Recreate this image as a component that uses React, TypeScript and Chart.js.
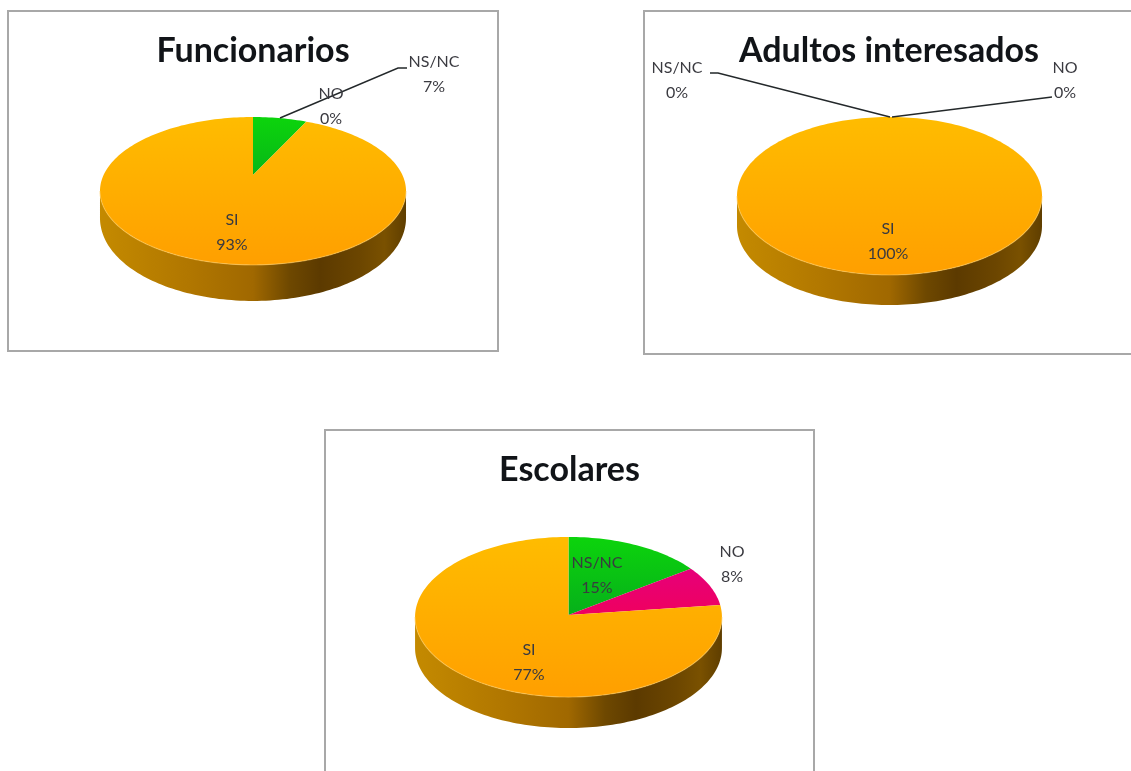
import React, { useEffect, useRef } from "react";
import { Chart, registerables } from "chart.js";

Chart.register(...registerables);

const categories = ["NS/NC", "NO", "SI"];
const funcionariosValues = [7, 0, 93];
const adultosValues = [0, 0, 100];
const escolaresValues = [15, 8, 77];

const sliceTones = [
  ["#0cd40c", "#008a2a"],
  ["#e0008c", "#ff0030"],
  ["#ffbc00", "#ff9f00"],
];
const sideStops: [number, string][] = [
  [0, "#c48a00"],
  [0.3, "#b07600"],
  [0.5, "#a06800"],
  [0.62, "#6e4800"],
  [0.72, "#5c3a00"],
  [0.85, "#6c4600"],
  [0.93, "#7a5100"],
  [1, "#5f3e00"],
];

type Panel = {
  title: string;
  values: number[];
  left: number;
  top: number;
  width: number;
  height: number;
  cx: number;
  cy: number;
  radius: number;
  tilt: number;
  persp: number;
  depthSide: number;
  depthFront: number;
  titleY: number;
  labelAt: [number, number][];
  leaders: [number, number][][];
};

const panels: Panel[] = [
  {
    title: "Funcionarios",
    values: funcionariosValues,
    left: 7, top: 10, width: 492, height: 342,
    cx: 246, cy: 165, radius: 149.4, tilt: 70.5 / 149.4, persp: 0.216,
    depthSide: 27, depthFront: 36, titleY: 41,
    labelAt: [[427, 52], [324, 84], [225, 210]],
    leaders: [[[273, 108], [391, 58], [400, 58]]],
  },
  {
    title: "Adultos interesados",
    values: adultosValues,
    left: 643, top: 10, width: 492, height: 345,
    cx: 246.5, cy: 186, radius: 152.5, tilt: 79 / 152.5, persp: 0,
    depthSide: 30, depthFront: 30, titleY: 41,
    labelAt: [[34, 58], [422, 58], [245, 219]],
    leaders: [
      [[67, 63], [75, 63], [247, 107]],
      [[409, 87], [249, 107]],
    ],
  },
  {
    title: "Escolares",
    values: escolaresValues,
    left: 324, top: 429, width: 491, height: 350,
    cx: 244.5, cy: 186, radius: 153.4, tilt: 80 / 153.4, persp: 0.025,
    depthSide: 31, depthFront: 31, titleY: 41,
    labelAt: [[273, 134], [408, 123], [205, 221]],
    leaders: [],
  },
];

function project(p: Panel, x: number, y: number, r: number, angle: number) {
  const u = Math.cos(angle);
  const d = Math.sin(angle);
  const w = 1 / (1 - p.persp * d);
  return { x: x + r * u * w, y: y + r * p.tilt * d * w, d };
}

function perspectivePlugin(p: Panel) {
  return {
    id: "perspectivePie",
    beforeDraw(chart: any) {
      const { ctx, width, height } = chart;
      ctx.save();
      ctx.fillStyle = "#ffffff";
      ctx.fillRect(0, 0, width, height);
      ctx.strokeStyle = "#a8a8a8";
      ctx.lineWidth = 2;
      ctx.strokeRect(1, 1, width - 2, height - 2);
      ctx.restore();
    },
    beforeDatasetDraw(chart: any) {
      const { ctx } = chart;
      const arcs = chart.getDatasetMeta(0).data;
      const { x, y, outerRadius: r } = arcs[0];
      const extreme = Math.asin(p.persp);
      const frontFrom = extreme;
      const frontTo = Math.PI - extreme;
      const steps = 120;
      const rim: { x: number; y: number; d: number }[] = [];
      for (let i = 0; i <= steps; i++) {
        rim.push(project(p, x, y, r, frontFrom + ((frontTo - frontFrom) * i) / steps));
      }
      const offset = (d: number) =>
        p.depthSide + (p.depthFront - p.depthSide) * Math.max(0, (d - p.persp) / (1 - p.persp));

      ctx.save();
      const xs = rim.map((q) => q.x);
      const xMin = Math.min(...xs);
      const xMax = Math.max(...xs);
      const side = ctx.createLinearGradient(xMin, 0, xMax, 0);
      sideStops.forEach(([s, c]) => side.addColorStop(s, c));
      ctx.fillStyle = side;
      ctx.beginPath();
      rim.forEach((q, i) => (i ? ctx.lineTo(q.x, q.y) : ctx.moveTo(q.x, q.y)));
      for (let i = rim.length - 1; i >= 0; i--) {
        ctx.lineTo(rim[i].x, rim[i].y + offset(rim[i].d));
      }
      ctx.closePath();
      ctx.fill();

      const yTop = project(p, x, y, r, -Math.PI / 2).y;
      const yBottom = project(p, x, y, r, Math.PI / 2).y;
      arcs.forEach((arc: any, index: number) => {
        const span = arc.endAngle - arc.startAngle;
        if (span <= 0) return;
        const grad = ctx.createLinearGradient(0, yTop, 0, yBottom);
        grad.addColorStop(0, sliceTones[index][0]);
        grad.addColorStop(1, sliceTones[index][1]);
        ctx.fillStyle = grad;
        ctx.beginPath();
        if (span < Math.PI * 2 - 1e-6) ctx.moveTo(x, y);
        const n = Math.max(4, Math.ceil((span / (Math.PI * 2)) * 240));
        for (let i = 0; i <= n; i++) {
          const q = project(p, x, y, r, arc.startAngle + (span * i) / n);
          ctx.lineTo(q.x, q.y);
        }
        ctx.closePath();
        ctx.fill();
      });

      ctx.strokeStyle = "rgba(255,206,96,0.5)";
      ctx.lineWidth = 1.2;
      ctx.beginPath();
      rim.forEach((q, i) => (i ? ctx.lineTo(q.x, q.y) : ctx.moveTo(q.x, q.y)));
      ctx.stroke();
      ctx.restore();
      return false;
    },
    afterDraw(chart: any) {
      const { ctx, width } = chart;
      ctx.save();
      ctx.strokeStyle = "#23282a";
      ctx.lineWidth = 1.4;
      p.leaders.forEach((line) => {
        ctx.beginPath();
        line.forEach(([lx, ly], i) => (i ? ctx.lineTo(lx, ly) : ctx.moveTo(lx, ly)));
        ctx.stroke();
      });
      ctx.textAlign = "center";
      ctx.textBaseline = "middle";
      ctx.fillStyle = "#111418";
      ctx.font = "bold 34px Lato, 'Open Sans', sans-serif";
      ctx.fillText(p.title, width / 2, p.titleY);
      ctx.font = "16px Lato, 'Open Sans', sans-serif";
      ctx.fillStyle = "#3a3a40";
      categories.forEach((name, i) => {
        const [lx, ly] = p.labelAt[i];
        ctx.fillText(name, lx, ly);
        ctx.fillText(`${p.values[i]}%`, lx, ly + 25);
      });
      ctx.restore();
    },
  };
}

function PiePanel({ panel }: { panel: Panel }) {
  const ref = useRef<HTMLCanvasElement>(null);
  useEffect(() => {
    const { cx, cy, radius, width, height } = panel;
    const chart = new Chart(ref.current as HTMLCanvasElement, {
      type: "pie",
      data: {
        labels: categories,
        datasets: [{ data: panel.values, borderWidth: 0, backgroundColor: sliceTones.map((t) => t[1]) }],
      },
      options: {
        animation: false,
        responsive: false,
        layout: {
          padding: {
            left: cx - radius,
            right: width - cx - radius,
            top: cy - radius,
            bottom: height - cy - radius,
          },
        },
        plugins: { legend: { display: false }, tooltip: { enabled: false }, title: { display: false } },
      },
      plugins: [perspectivePlugin(panel)],
    } as any);
    return () => chart.destroy();
  }, [panel]);
  return (
    <canvas
      ref={ref}
      width={panel.width}
      height={panel.height}
      style={{
        position: "absolute",
        left: panel.left,
        top: panel.top,
        width: panel.width,
        height: panel.height,
        filter: "blur(0.5px)",
      }}
    />
  );
}

export default function App() {
  return (
    <div
      style={{
        position: "absolute",
        left: 0,
        top: 0,
        width: 1131,
        height: 771,
        overflow: "hidden",
        background: "#ffffff",
      }}
    >
      {panels.map((panel) => (
        <PiePanel key={panel.title} panel={panel} />
      ))}
    </div>
  );
}
